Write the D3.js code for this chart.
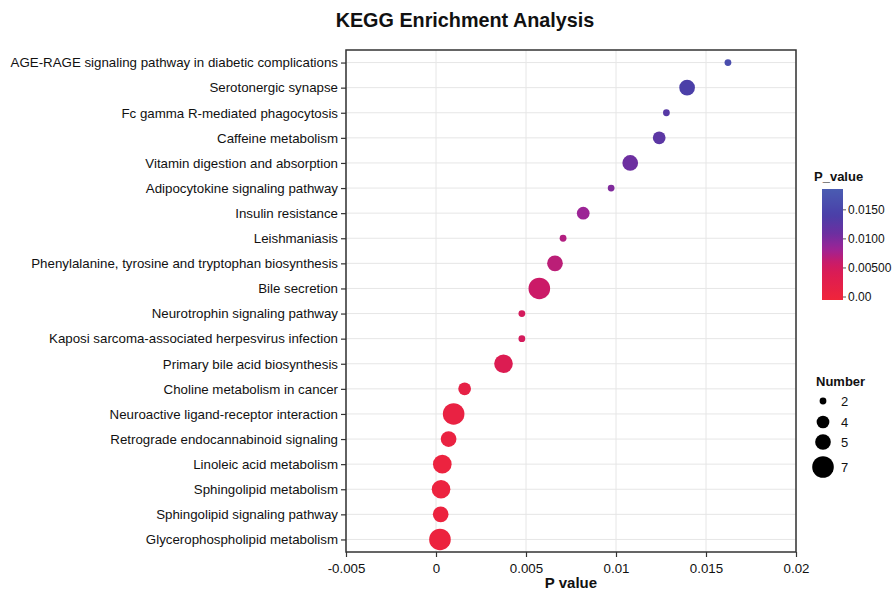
<!DOCTYPE html>
<html>
<head>
<meta charset="utf-8">
<script src="https://cdn.jsdelivr.net/npm/d3@7"></script>
<style>
  body { margin: 0; background: #fff; }
  text { font-family: "Liberation Sans", Arial, sans-serif; fill: #111; }
</style>
</head>
<body>
<script>
var pathways = [
  "AGE-RAGE signaling pathway in diabetic complications",
  "Serotonergic synapse",
  "Fc gamma R-mediated phagocytosis",
  "Caffeine metabolism",
  "Vitamin digestion and absorption",
  "Adipocytokine signaling pathway",
  "Insulin resistance",
  "Leishmaniasis",
  "Phenylalanine, tyrosine and tryptophan biosynthesis",
  "Bile secretion",
  "Neurotrophin signaling pathway",
  "Kaposi sarcoma-associated herpesvirus infection",
  "Primary bile acid biosynthesis",
  "Choline metabolism in cancer",
  "Neuroactive ligand-receptor interaction",
  "Retrograde endocannabinoid signaling",
  "Linoleic acid metabolism",
  "Sphingolipid metabolism",
  "Sphingolipid signaling pathway",
  "Glycerophospholipid metabolism"
];
var pValues = [0.01622, 0.01395, 0.0128, 0.0124, 0.01079, 0.00973, 0.00818, 0.00706, 0.00661, 0.00574,
               0.00477, 0.00477, 0.00375, 0.00159, 0.00098, 0.0007, 0.00035, 0.00028, 0.00026, 0.00022];
var counts = [2, 5, 2, 4, 5, 2, 4, 2, 5, 7, 2, 2, 6, 4, 7, 5, 6, 6, 5, 7];

var xTicks = [-0.005, 0, 0.005, 0.01, 0.015, 0.02];
var xTickLabels = ["-0.005", "0", "0.005", "0.01", "0.015", "0.02"];
var colorTicks = [0, 0.005, 0.01, 0.015];
var colorTickLabels = ["0.00", "0.00500", "0.0100", "0.0150"];
var sizeBreaks = [2, 4, 5, 7];

var width = 895, height = 591;
var pLeft = 346, pRight = 796, pTop = 50, pBottom = 552;

var svg = d3.select("body").append("svg")
    .attr("width", width)
    .attr("height", height);

var x = d3.scaleLinear().domain([-0.005, 0.02]).range([pLeft, pRight]);
var y = d3.scalePoint().domain(pathways).range([pTop, pBottom]).padding(0.5);
var r = d3.scaleLinear().domain([2, 7]).range([3.4, 10.8]);

// colour ramp: red -> crimson -> magenta -> purple -> blue
var cDomain = [-0.0006, 0.0185];
var color = d3.scaleLinear()
    .domain([cDomain[0], 0.0038, 0.0057, 0.0082, 0.0108, 0.014, cDomain[1]])
    .range(["#f0253a", "#dc1c52", "#cc1a66", "#9c2496", "#6d2fa0", "#4a3fa8", "#4a5cb2"])
    .interpolate(d3.interpolateRgb)
    .clamp(true);

// gridlines
svg.append("g").selectAll("line")
  .data(xTicks).join("line")
    .attr("x1", d => x(d)).attr("x2", d => x(d))
    .attr("y1", pTop).attr("y2", pBottom)
    .attr("stroke", "#e6e6e6").attr("stroke-width", 1);
svg.append("g").selectAll("line")
  .data(pathways).join("line")
    .attr("x1", pLeft).attr("x2", pRight)
    .attr("y1", d => y(d)).attr("y2", d => y(d))
    .attr("stroke", "#e6e6e6").attr("stroke-width", 1);

// points
svg.append("g").selectAll("circle")
  .data(pathways).join("circle")
    .attr("cx", (d, i) => x(pValues[i]))
    .attr("cy", d => y(d))
    .attr("r", (d, i) => r(counts[i]))
    .attr("fill", (d, i) => color(pValues[i]));

// panel border
svg.append("rect")
    .attr("x", pLeft).attr("y", pTop)
    .attr("width", pRight - pLeft).attr("height", pBottom - pTop)
    .attr("fill", "none").attr("stroke", "#333").attr("stroke-width", 1.5);

// axes
var xAxis = svg.append("g")
    .attr("transform", "translate(0," + pBottom + ")")
    .call(d3.axisBottom(x).tickValues(xTicks).tickFormat((d, i) => xTickLabels[i]).tickSize(5).tickSizeOuter(0));
var yAxis = svg.append("g")
    .attr("transform", "translate(" + pLeft + ",0)")
    .call(d3.axisLeft(y).tickSize(5).tickSizeOuter(0));
[xAxis, yAxis].forEach(function(a){
  a.select(".domain").remove();
  a.selectAll(".tick line").attr("stroke", "#333").attr("stroke-width", 1.2);
  a.selectAll(".tick text").style("font-size", "13.3px").attr("fill", "#111")
    .style("font-family", '"Liberation Sans", Arial, sans-serif');
});
xAxis.selectAll(".tick text").attr("dy", "0.95em");
yAxis.selectAll(".tick text").attr("x", -8);

// titles
svg.append("text")
    .attr("x", 465).attr("y", 27)
    .attr("text-anchor", "middle")
    .style("font-size", "19.8px").style("font-weight", "bold")
    .text("KEGG Enrichment Analysis");
svg.append("text")
    .attr("x", (pLeft + pRight) / 2).attr("y", 588)
    .attr("text-anchor", "middle")
    .style("font-size", "15px").style("font-weight", "bold")
    .text("P value");

// colour legend
var cbX = 822, cbW = 21, cbTop = 189, cbBottom = 300;
var cScale = d3.scaleLinear().domain(cDomain).range([cbBottom, cbTop]);
var grad = svg.append("defs").append("linearGradient")
    .attr("id", "pgrad").attr("x1", 0).attr("y1", 1).attr("x2", 0).attr("y2", 0);
d3.range(0, 1.0001, 0.05).forEach(function(t){
  grad.append("stop").attr("offset", t)
    .attr("stop-color", color(cDomain[0] + t * (cDomain[1] - cDomain[0])));
});
svg.append("text").attr("x", 814).attr("y", 181)
    .style("font-size", "13px").style("font-weight", "bold").text("P_value");
svg.append("rect")
    .attr("x", cbX).attr("y", cbTop).attr("width", cbW).attr("height", cbBottom - cbTop)
    .attr("fill", "url(#pgrad)");
var cAxis = svg.append("g")
    .attr("transform", "translate(" + (cbX + cbW) + ",0)")
    .call(d3.axisRight(cScale).tickValues(colorTicks).tickFormat((d, i) => colorTickLabels[i]).tickSize(3));
cAxis.select(".domain").remove();
cAxis.selectAll(".tick line").attr("stroke", "#555");
cAxis.selectAll(".tick text").attr("x", 5).style("font-size", "12px").attr("fill", "#111")
    .style("font-family", '"Liberation Sans", Arial, sans-serif');

// size legend
svg.append("text").attr("x", 816).attr("y", 386)
    .style("font-size", "13px").style("font-weight", "bold").text("Number");
var legendY = [401, 422, 442, 467];
var sl = svg.append("g").selectAll("g")
  .data(sizeBreaks).join("g")
    .attr("transform", (d, i) => "translate(823," + legendY[i] + ")");
sl.append("circle").attr("r", d => r(d)).attr("fill", "#000");
sl.append("text").attr("x", 18).attr("dy", "0.35em")
    .style("font-size", "13px").text(d => d);
</script>
</body>
</html>
